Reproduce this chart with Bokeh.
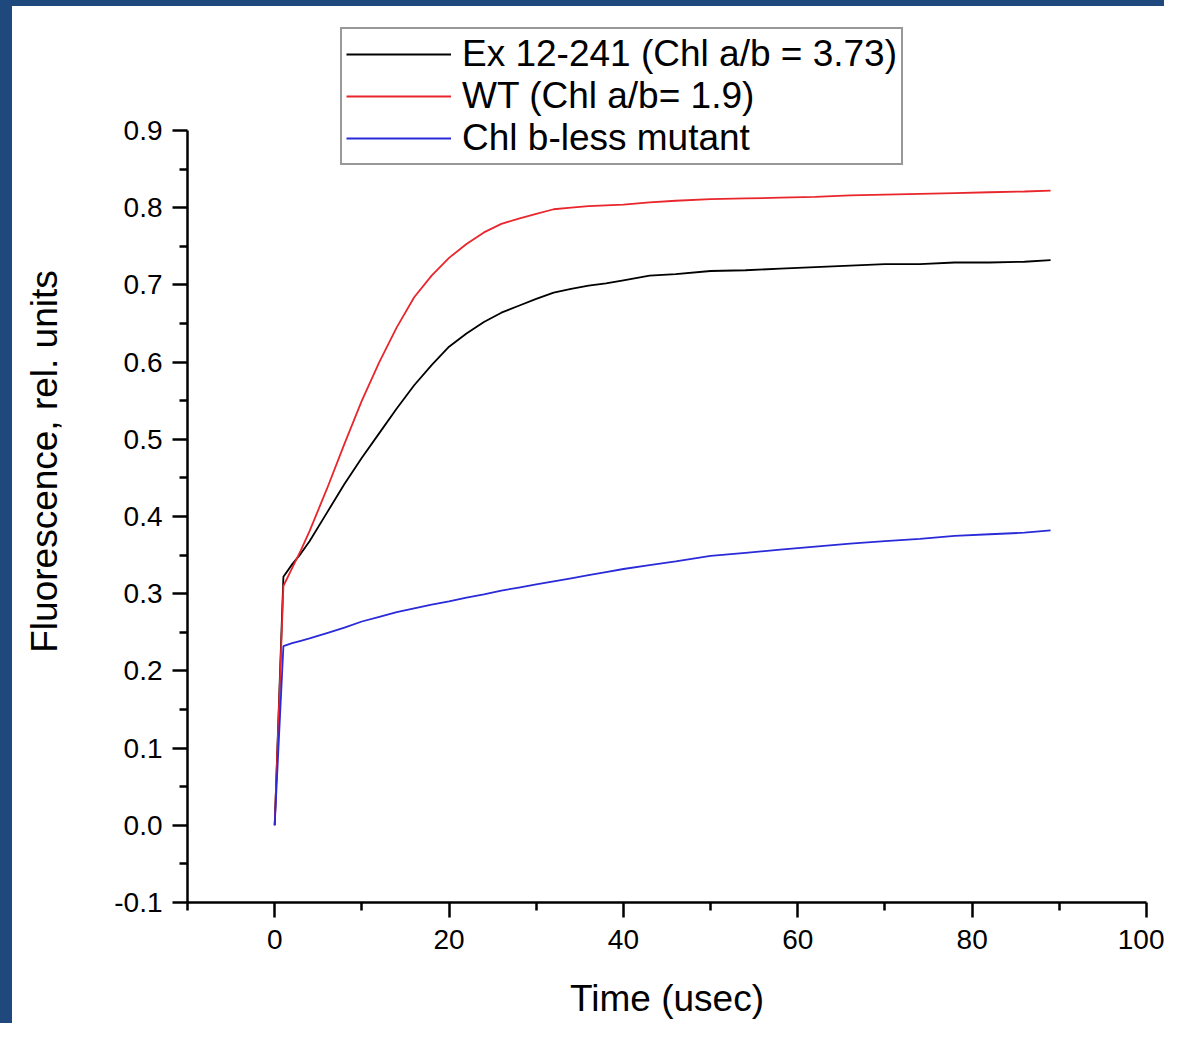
from bokeh.plotting import figure
from bokeh.models import FixedTicker, Legend, LegendItem, Range1d
from bokeh.embed import file_html
from bokeh.resources import INLINE

# ---- data ----
time_us = [0, 1, 2, 3, 4, 6, 8, 10, 12, 14, 16, 18, 20, 22, 24, 26, 28, 30, 32, 34,
           36, 38, 40, 43, 46, 50, 54, 58, 62, 66, 70, 74, 78, 82, 86, 89]

ex_12_241 = [0.0, 0.322, 0.338, 0.352, 0.368, 0.405, 0.442, 0.476, 0.508, 0.540,
             0.570, 0.596, 0.620, 0.637, 0.652, 0.664, 0.673, 0.682, 0.690, 0.695,
             0.699, 0.702, 0.706, 0.712, 0.714, 0.718, 0.719, 0.721, 0.723, 0.725,
             0.727, 0.727, 0.729, 0.729, 0.730, 0.732]

wild_type = [0.0, 0.310, 0.333, 0.356, 0.381, 0.436, 0.494, 0.550, 0.600, 0.645,
             0.684, 0.712, 0.735, 0.753, 0.768, 0.779, 0.786, 0.792, 0.798, 0.800,
             0.802, 0.803, 0.804, 0.807, 0.809, 0.811, 0.812, 0.813, 0.814, 0.816,
             0.817, 0.818, 0.819, 0.820, 0.821, 0.822]

chl_b_less = [0.0, 0.232, 0.236, 0.239, 0.242, 0.249, 0.256, 0.264, 0.270, 0.276,
              0.281, 0.286, 0.290, 0.295, 0.299, 0.304, 0.308, 0.312, 0.316, 0.320,
              0.324, 0.328, 0.332, 0.337, 0.342, 0.349, 0.353, 0.357, 0.361, 0.365,
              0.368, 0.371, 0.375, 0.377, 0.379, 0.382]

series_labels = ["Ex 12-241 (Chl a/b = 3.73)", "WT (Chl a/b= 1.9)", "Chl b-less mutant"]

x_ticks = [0, 20, 40, 60, 80, 100]
x_minor_ticks = [-10, 10, 30, 50, 70, 90]
y_ticks = [-0.1, 0.0, 0.1, 0.2, 0.3, 0.4, 0.5, 0.6, 0.7, 0.8, 0.9]
y_tick_labels = ["-0.1", "0.0", "0.1", "0.2", "0.3", "0.4", "0.5", "0.6", "0.7", "0.8", "0.9"]
y_minor_ticks = [-0.05, 0.05, 0.15, 0.25, 0.35, 0.45, 0.55, 0.65, 0.75, 0.85]

FONT = "Liberation Sans"

p = figure(width=1152, height=1017, output_backend="svg", toolbar_location=None,
           x_range=Range1d(-10, 100), y_range=Range1d(-0.1, 1.0425),
           min_border_left=175, min_border_right=30, min_border_top=14, min_border_bottom=127)

# dark blue slide frame on the left and top edges
p.styles = {"border-left": "12px solid #1f497d", "border-top": "6px solid #1f497d",
            "box-sizing": "content-box"}

p.outline_line_color = None
p.xgrid.visible = False
p.ygrid.visible = False
p.background_fill_color = "white"
p.border_fill_color = "white"

colors = ["#000000", "#e8262c", "#2a2ad8"]
renderers = []
for ys, c in zip([ex_12_241, wild_type, chl_b_less], colors):
    r = p.line(time_us, ys, line_color=c, line_width=1.8)
    renderers.append(r)

# axes
xa = p.xaxis[0]
xa.ticker = FixedTicker(ticks=x_ticks, minor_ticks=x_minor_ticks)
xa.bounds = (-10, 100)
xa.axis_label = "Time (usec)"
ya = p.yaxis[0]
ya.ticker = FixedTicker(ticks=y_ticks, minor_ticks=y_minor_ticks)
ya.major_label_overrides = {t: l for t, l in zip(y_ticks, y_tick_labels)}
ya.bounds = (-0.1, 0.9)
ya.axis_label = "Fluorescence, rel. units"

for ax in (xa, ya):
    ax.axis_line_width = 2.5
    ax.axis_line_color = "black"
    ax.major_tick_line_width = 2.5
    ax.minor_tick_line_width = 2.5
    ax.major_tick_line_color = "black"
    ax.minor_tick_line_color = "black"
    ax.major_tick_in = 0
    ax.minor_tick_in = 0
    ax.major_tick_out = 15
    ax.minor_tick_out = 8
    ax.major_label_text_font = FONT
    ax.major_label_text_font_size = "28px"
    ax.major_label_text_color = "black"
    ax.axis_label_text_font = FONT
    ax.axis_label_text_font_size = "37px"
    ax.axis_label_text_font_style = "normal"
    ax.axis_label_text_color = "black"

xa.major_label_standoff = 12
xa.axis_label_standoff = 26
ya.major_label_standoff = 10
ya.axis_label_standoff = 46

legend = Legend(items=[LegendItem(label=l, renderers=[r]) for l, r in zip(series_labels, renderers)],
                location=(153, 737))
legend.label_text_font = FONT
legend.label_text_font_size = "37px"
legend.label_text_color = "black"
legend.glyph_width = 105
legend.glyph_height = 40
legend.label_height = 40
legend.label_standoff = 11
legend.padding = 4
legend.spacing = 0
legend.margin = 0
legend.border_line_color = "#333333"
legend.border_line_width = 2
legend.background_fill_alpha = 1.0
p.add_layout(legend, "center")

open("out.html", "w").write(file_html(p, INLINE))
